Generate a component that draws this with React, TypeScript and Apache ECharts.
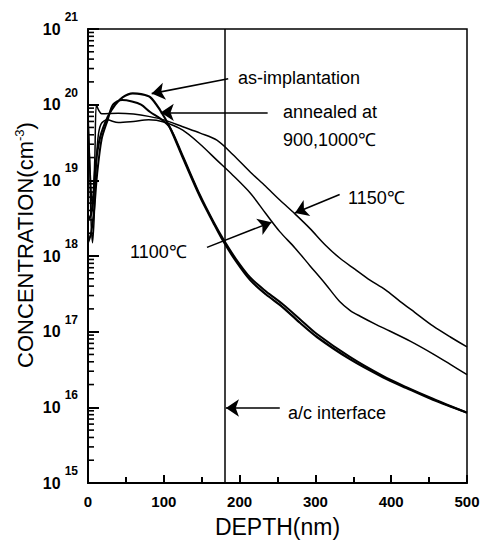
import React, { useEffect, useRef } from 'react';
import * as echarts from 'echarts';

// depth (nm) and concentration (cm^-3)
const asImplDepth = [0, 4, 7, 10, 16, 26, 36, 46, 59, 70, 82, 95, 108, 125, 148, 165, 178, 195, 214, 235, 257, 280, 302, 346, 389, 420, 455, 500];
const asImplConc = [3e18, 3.5e18, 6e18, 1.6e19, 3.7e19, 6.9e19, 1.0e20, 1.26e20, 1.41e20, 1.38e20, 1.26e20, 8.5e19, 5.0e19, 2.0e19, 6.0e18, 2.8e18, 1.6e18, 8.6e17, 4.8e17, 3.1e17, 2.1e17, 1.3e17, 8.5e16, 4.3e16, 2.5e16, 1.8e16, 1.26e16, 8.5e15];

const ann900Depth = [0, 4, 8, 12, 18, 26, 33, 45, 58, 70, 82, 95, 108, 125, 148, 165, 178, 195, 214, 235, 257, 280, 302, 346, 389, 420, 455, 500];
const ann900Conc = [1.5e18, 2e18, 4e18, 1.2e19, 3.5e19, 6.3e19, 1.0e20, 1.15e20, 1.1e20, 1.0e20, 8.0e19, 6.6e19, 5.0e19, 2.1e19, 6.3e18, 2.9e18, 1.7e18, 9.2e17, 5.2e17, 3.4e17, 2.3e17, 1.45e17, 9.3e16, 4.6e16, 2.6e16, 1.85e16, 1.3e16, 8.5e15];

const ann1100Depth = [0, 2, 4, 6, 8, 10, 13, 17, 25, 40, 60, 80, 100, 125, 148, 170, 191, 214, 234, 253, 273, 293, 313, 332, 346, 359, 379, 398, 425, 455, 478, 500];
const ann1100Conc = [8e19, 2e19, 3e18, 1.5e18, 3e18, 1e19, 3.5e19, 5.5e19, 6.3e19, 5.8e19, 6.0e19, 6.3e19, 5.9e19, 4.6e19, 3.0e19, 1.85e19, 1.17e19, 6.8e18, 3.7e18, 2.1e18, 1.28e18, 7.4e17, 4.3e17, 2.5e17, 1.9e17, 1.6e17, 1.26e17, 1.02e17, 7.5e16, 5.1e16, 3.7e16, 2.7e16];

const ann1150Depth = [0, 3, 6, 9, 11, 14, 18, 40, 60, 80, 100, 125, 148, 170, 191, 214, 234, 253, 273, 293, 313, 332, 352, 372, 392, 412, 431, 455, 478, 500];
const ann1150Conc = [6e19, 1.2e19, 4e18, 2e19, 1.0e20, 8.5e19, 7.6e19, 7.7e19, 7.5e19, 7.0e19, 6.3e19, 5.1e19, 4.2e19, 3.4e19, 2.2e19, 1.29e19, 8.4e18, 5.5e18, 3.6e18, 2.3e18, 1.4e18, 9.4e17, 6.7e17, 4.8e17, 3.6e17, 2.5e17, 1.8e17, 1.19e17, 8.5e16, 6.3e16];

const yDecades = [15, 16, 17, 18, 19, 20, 21];
const minorMultipliers = [2, 3, 4, 5, 6, 7, 8, 9];
const interfaceDepth = 180;

const FONT = "'Liberation Sans', Arial, Helvetica, sans-serif";

function zip(xs: number[], ys: number[]) {
  return xs.map((x, i) => [x, ys[i]]);
}

export default function App() {
  const ref = useRef<HTMLDivElement>(null);
  useEffect(() => {
    if (!ref.current) return;
    const chart = echarts.init(ref.current, null, { renderer: 'svg' });
    const minorY: number[] = [];
    yDecades.slice(0, -1).forEach((d) => {
      minorMultipliers.forEach((m) => minorY.push(m * Math.pow(10, d)));
    });
    const lineStyle = (w: number) => ({ color: '#000', width: w });
    const arrows = [
      [{ coord: [185, 2.2e20] }, { coord: [84, 1.4e20] }],
      [{ coord: [237, 7.9e19] }, { coord: [96, 7.9e19] }],
      [{ coord: [332, 6.5e18] }, { coord: [273, 3.7e18] }],
      [{ coord: [157, 1.3e18] }, { coord: [242, 2.8e18] }],
      [{ coord: [253, 9.8e15] }, { coord: [182, 9.8e15] }],
    ];
    const txt = (text: string, x: number, y: number) => ({
      type: 'text', x, y,
      style: { text, fontFamily: FONT, fontSize: 18, fill: '#000', verticalAlign: 'middle' },
    });
    const baseGraphic: any[] = [
      {
        type: 'text', x: 25, y: 245, rotation: Math.PI / 2,
        style: {
          text: '{n|CONCENTRATION(cm}{s|-3}{n|)}', align: 'center', verticalAlign: 'middle',
          rich: {
            n: { fontFamily: FONT, fontSize: 22, fill: '#000' },
            s: { fontFamily: FONT, fontSize: 13, fill: '#000', padding: [0, 0, 12, 0] },
          },
        },
      },
      txt('as-implantation', 238, 78),
      txt('annealed at', 283, 112),
      txt('900,1000℃', 283, 140),
      txt('1150℃', 348, 198),
      txt('1100℃', 130, 252),
      txt('a/c interface', 288, 413),
    ];
    const option: any = {
      animation: false,
      backgroundColor: '#fff',
      grid: { left: 88, right: 25, top: 29, bottom: 74, show: true, borderColor: '#000', borderWidth: 1.5 },
      xAxis: {
        type: 'value', min: 0, max: 500, interval: 100,
        axisLine: { show: true, lineStyle: { color: '#000', width: 2 } },
        axisTick: { show: true, inside: true, length: 8, lineStyle: { color: '#000', width: 2 } },
        minorTick: { show: true, splitNumber: 2, length: 6, lineStyle: { color: '#000', width: 2 } },
        axisLabel: { show: true, color: '#000', fontFamily: FONT, fontWeight: 'bold', fontSize: 15, margin: 11 },
        splitLine: { show: false },
        name: 'DEPTH(nm)', nameLocation: 'middle', nameGap: 32,
        nameTextStyle: { color: '#000', fontFamily: FONT, fontSize: 23 },
      },
      yAxis: {
        type: 'log', logBase: 10, min: 1e15, max: 1e21,
        axisLine: { show: true, lineStyle: { color: '#000', width: 2 } },
        axisTick: { show: true, inside: true, length: 11, lineStyle: { color: '#000', width: 2 } },
        axisLabel: {
          show: true, color: '#000', margin: 10,
          formatter: (v: number) => `{b|10}{s|${Math.round(Math.log10(v))}}`,
          rich: {
            b: { fontFamily: FONT, fontWeight: 'bold', fontSize: 16, color: '#000' },
            s: { fontFamily: FONT, fontWeight: 'bold', fontSize: 12, color: '#000', padding: [0, 0, 24, 4] },
          },
        },
        splitLine: { show: false },
      },
      series: [
        {
          type: 'line', data: zip(asImplDepth, asImplConc), showSymbol: false, smooth: 0.3,
          lineStyle: lineStyle(2.2), silent: true,
          markLine: {
            silent: true, symbol: ['none', 'arrow'], symbolSize: 13,
            lineStyle: { color: '#000', width: 1.6, type: 'solid' }, itemStyle: { color: '#000' },
            label: { show: false },
            data: arrows,
          },
        },
        {
          type: 'line', data: zip(ann900Depth, ann900Conc), showSymbol: false, smooth: 0.3,
          lineStyle: lineStyle(2), silent: true,
          markLine: {
            silent: true, symbol: ['none', 'none'],
            lineStyle: { color: '#000', width: 1.5, type: 'solid' }, label: { show: false },
            data: [{ xAxis: interfaceDepth }],
          },
        },
        { type: 'line', data: zip(ann1100Depth, ann1100Conc), showSymbol: false, smooth: 0.3, lineStyle: lineStyle(1.5), silent: true },
        { type: 'line', data: zip(ann1150Depth, ann1150Conc), showSymbol: false, smooth: 0.3, lineStyle: lineStyle(1.5), silent: true },
      ],
      graphic: baseGraphic,
    };
    chart.setOption(option);
    const tickLines = minorY.map((v) => {
      const p = chart.convertToPixel({ xAxisIndex: 0, yAxisIndex: 0 }, [0, v]) as number[];
      return {
        type: 'line', silent: true, z: 10,
        shape: { x1: p[0], y1: p[1], x2: p[0] + 6, y2: p[1] },
        style: { stroke: '#000', lineWidth: 1.6 },
      };
    });
    chart.setOption({ graphic: [...baseGraphic, ...tickLines] });
    return () => chart.dispose();
  }, []);
  return <div ref={ref} style={{ width: 492, height: 557, position: 'absolute', left: 0, top: 0 }} />;
}
